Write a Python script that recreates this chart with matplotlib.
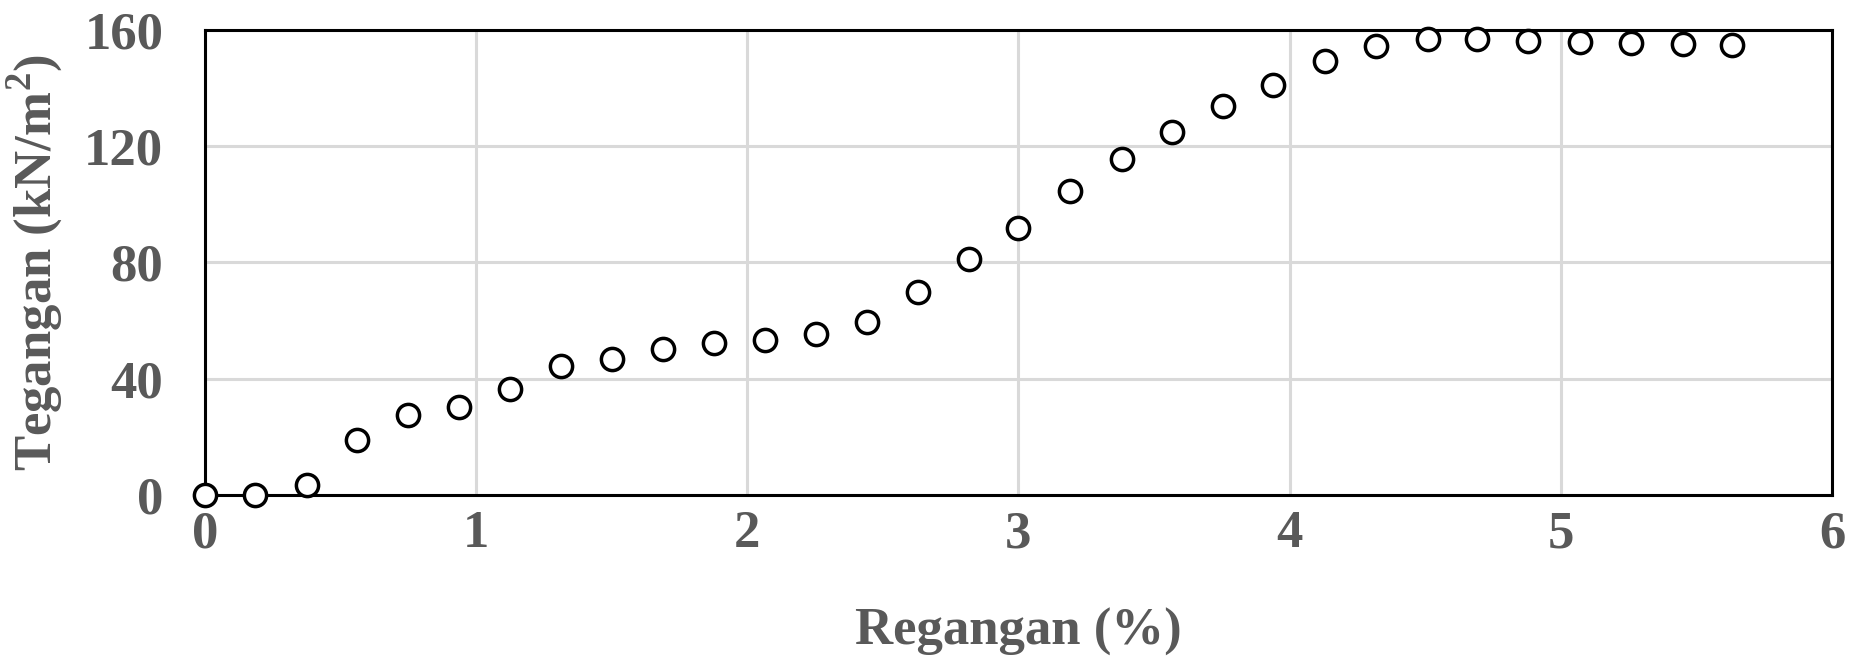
import matplotlib.pyplot as plt

# Regangan (%) vs Tegangan (kN/m2)
strain = [0.0, 0.185, 0.375, 0.562, 0.75, 0.938, 1.125, 1.313, 1.5, 1.69, 1.876,
          2.064, 2.253, 2.44, 2.629, 2.816, 3.0, 3.19, 3.38, 3.567, 3.755, 3.94,
          4.13, 4.32, 4.51, 4.69, 4.88, 5.07, 5.26, 5.45, 5.63]
stress = [0.0, 0.0, 3.6, 18.8, 27.5, 30.4, 36.6, 44.3, 46.7, 50.4, 52.4,
          53.2, 55.5, 59.4, 70.0, 81.1, 91.8, 104.7, 115.5, 124.9, 134.0, 141.2,
          149.4, 154.6, 156.9, 156.8, 156.3, 155.8, 155.6, 155.3, 154.9]

x_ticks = [0, 1, 2, 3, 4, 5, 6]
y_ticks = [0, 40, 80, 120, 160]

grey = '#595959'
plt.rcParams['font.family'] = ['Liberation Serif', 'DejaVu Serif']
plt.rcParams['font.weight'] = 'bold'
plt.rcParams['mathtext.fontset'] = 'custom'
plt.rcParams['mathtext.rm'] = 'Liberation Serif:bold'
plt.rcParams['mathtext.bf'] = 'Liberation Serif:bold'

fig = plt.figure(figsize=(18.7, 6.63), dpi=100)
ax = fig.add_axes([0.1096, 0.2534, 0.8701, 0.7014])

ax.plot(strain, stress, linestyle='none', marker='o', markersize=16,
        markerfacecolor='white', markeredgecolor='black', markeredgewidth=2.5,
        clip_on=False, zorder=5)

ax.set_xlim(0, 6)
ax.set_ylim(0, 160)
ax.set_xticks(x_ticks)
ax.set_yticks(y_ticks)
ax.grid(True, color='#d9d9d9', linewidth=2.2)
ax.set_axisbelow(True)
for s in ax.spines.values():
    s.set_color('black')
    s.set_linewidth(2.2)

ax.tick_params(axis='both', length=0, labelsize=38, labelcolor=grey)
ax.tick_params(axis='x', pad=11)
ax.tick_params(axis='y', pad=30)
for lab in ax.get_xticklabels() + ax.get_yticklabels():
    lab.set_fontweight('bold')

ax.set_xlabel('Regangan (%)', fontsize=38, color=grey, fontweight='bold', labelpad=36)
ax.set_ylabel(r'Tegangan (kN/m$^{\mathbf{2}}$)', fontsize=38, color=grey,
              fontweight='bold', labelpad=14)

fig.savefig('out.png', dpi=100)
